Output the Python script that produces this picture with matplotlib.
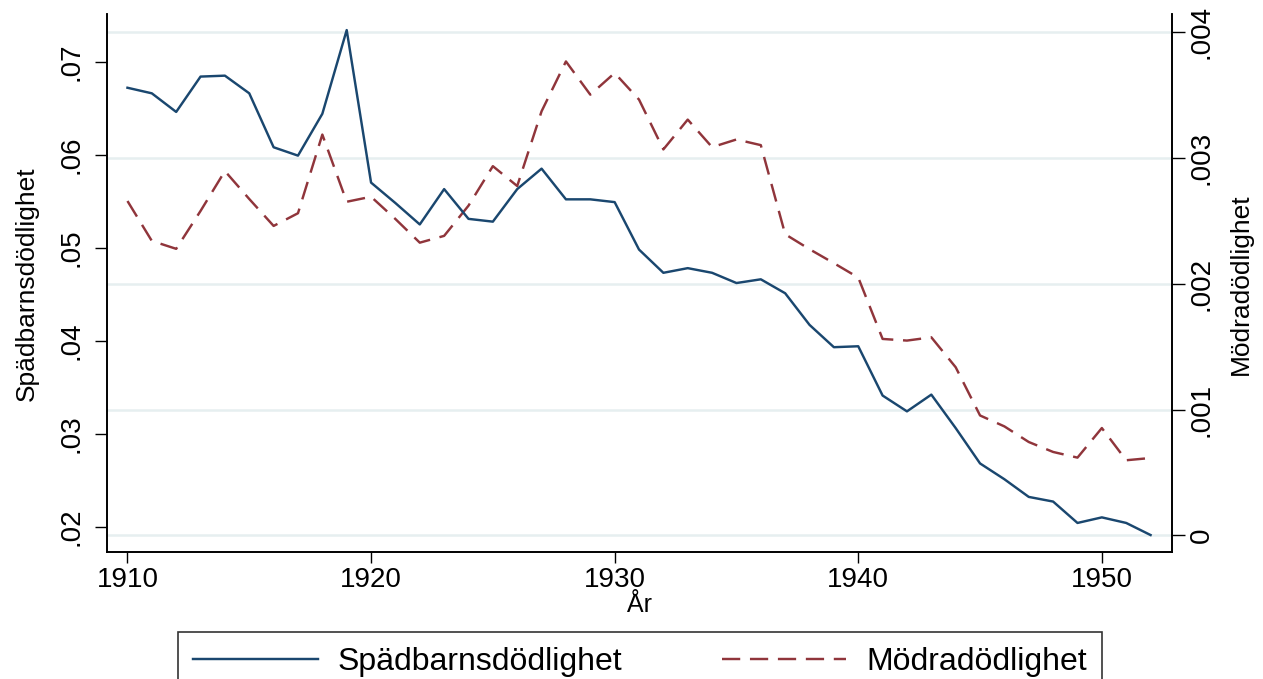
import matplotlib
matplotlib.use("Agg")
import matplotlib.pyplot as plt
from matplotlib.lines import Line2D

plt.rcParams['font.family'] = ['Liberation Sans', 'DejaVu Sans']

years = list(range(1910, 1953))
infant = [0.0672, 0.0666, 0.0646, 0.0684, 0.0685, 0.0666, 0.0608, 0.0599, 0.0644, 0.0734,
          0.0570, 0.0548, 0.0525, 0.0563, 0.0531, 0.0528, 0.0563, 0.0585, 0.0552, 0.0552,
          0.0549, 0.0498, 0.0473, 0.0478, 0.0473, 0.0462, 0.0466, 0.0451, 0.0417, 0.0393,
          0.0394, 0.0341, 0.0324, 0.0342, 0.0306, 0.0268, 0.0251, 0.0232, 0.0227, 0.0204,
          0.0210, 0.0204, 0.0191]
maternal = [0.002657, 0.002340, 0.002277, 0.002578, 0.002895, 0.002673, 0.002459, 0.002560,
            0.003185, 0.002651, 0.002691, 0.002514, 0.002326, 0.002380, 0.002620, 0.002934,
            0.002776, 0.003370, 0.003766, 0.003502, 0.003674, 0.003463, 0.003067, 0.003304,
            0.003085, 0.003146, 0.003101, 0.002393, 0.002274, 0.002163, 0.002049, 0.001561,
            0.001548, 0.001574, 0.001336, 0.000953, 0.000866, 0.000742, 0.000663, 0.000618,
            0.000853, 0.000597, 0.000615]

xticks = [1910, 1920, 1930, 1940, 1950]
left_ticks = [0.02, 0.03, 0.04, 0.05, 0.06, 0.07]
left_labels = ['.02', '.03', '.04', '.05', '.06', '.07']
right_ticks = [0, 0.001, 0.002, 0.003, 0.004]
right_labels = ['0', '.001', '.002', '.003', '.004']

blue = '#1a476f'
red = '#90353b'
grid = '#e6eff0'

W, H = 1263, 679
fig = plt.figure(figsize=(W / 100, H / 100), dpi=100)
L, R, T, B = 107, 1172, 14, 551.5
ax = fig.add_axes([L / W, 1 - B / H, (R - L) / W, (B - T) / H])
ax2 = ax.twinx()

ax.set_zorder(ax2.get_zorder() + 1)
ax.patch.set_visible(False)

ax2.plot(years, maternal, color=red, lw=1.75, dashes=(7.5, 4), solid_capstyle='butt')
ax.plot(years, infant, color=blue, lw=1.75)

ax.set_xlim(1909.16, 1952.88)
ax.set_ylim(0.01733, 0.07513)
ax2.set_ylim(-0.000128, 0.004143)

for a in (ax, ax2):
    a.spines['top'].set_visible(False)
    for s in ('left', 'right', 'bottom'):
        a.spines[s].set_linewidth(1.2)
        a.spines[s].set_color('black')

ax2.set_yticks(right_ticks)
ax2.set_yticklabels(right_labels, rotation=90, va='center')
ax2.yaxis.grid(True, color=grid, lw=1.8)
ax2.set_axisbelow(True)
ax2.tick_params(axis='y', length=9, width=1, pad=3, labelsize=20)

ax.set_yticks(left_ticks)
ax.set_yticklabels(left_labels, rotation=90, va='center')
ax.tick_params(axis='y', length=9, width=1, pad=7, labelsize=20)
ax.set_xticks(xticks)
ax.set_xticklabels([str(x) for x in xticks])
ax.tick_params(axis='x', length=8, width=1, pad=3, labelsize=20)

fig.text(640 / W, 1 - 605 / H, 'År', ha='center', va='center', fontsize=18)
fig.text(27 / W, 1 - 284 / H, 'Spädbarnsdödlighet', rotation=90, ha='center', va='center', fontsize=19)
fig.text(1241 / W, 1 - 284 / H, 'Mödradödlighet', rotation=90, ha='center', va='center', fontsize=19)

handles = [Line2D([], [], color=blue, lw=1.75),
           Line2D([], [], color=red, lw=1.75, dashes=(7.5, 4))]
leg = fig.legend(handles, ['Spädbarnsdödlighet', 'Mödradödlighet'], loc='upper center',
                 bbox_to_anchor=(640 / W, 1 - 632 / H), ncol=2, frameon=True, fancybox=False,
                 fontsize=23, handlelength=3.9, handletextpad=0.63, columnspacing=3.1,
                 borderpad=0.47, borderaxespad=0)
leg.get_frame().set_edgecolor('black')
leg.get_frame().set_linewidth(1.2)

fig.savefig('out.png', dpi=100)
